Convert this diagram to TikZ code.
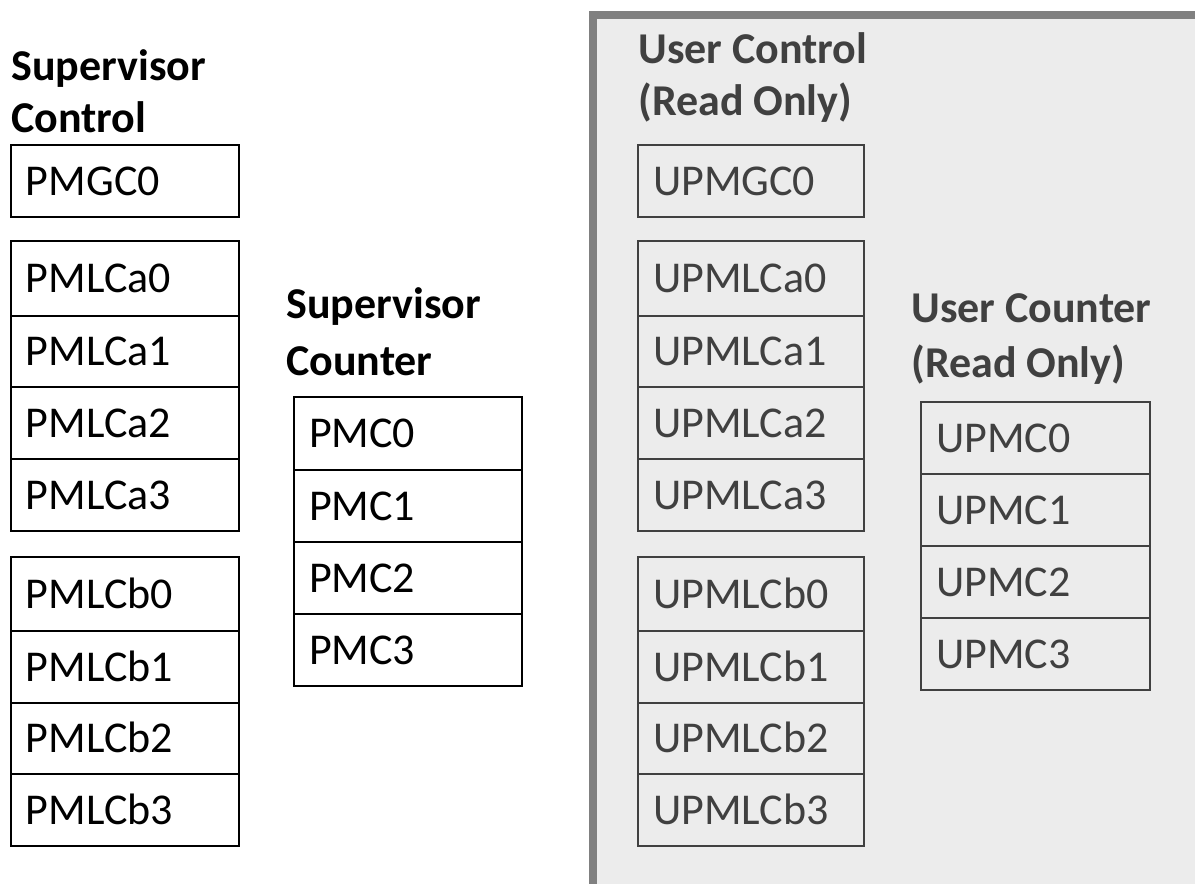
\documentclass[tikz,border=0pt]{standalone}
\usepackage{fontspec}
\setmainfont{Carlito}
\definecolor{panelfill}{HTML}{ECECEC}
\definecolor{panelrule}{HTML}{808080}
\definecolor{usertext}{HTML}{404040}
\definecolor{suptext}{HTML}{000000}
\begin{document}
\begin{tikzpicture}[x=0.75pt,y=-0.75pt,
  cellbox/.style={draw=#1, line width=1.5pt, anchor=north west, inner ysep=0pt,
    inner xsep=11.25pt, align=left, text height=21pt, text depth=0pt,
    font=\fontsize{33}{40}\selectfont},
  supcell/.style={cellbox=suptext, text=suptext, text width=148.5pt, minimum width=171pt},
  usercell/.style={cellbox=usertext, text=usertext, text width=147pt, minimum width=169.5pt},
  ucntcell/.style={cellbox=usertext, text=usertext, text width=149.25pt, minimum width=171.75pt},
  title/.style={anchor=base west, inner sep=0pt, font=\fontsize{33}{40}\selectfont\bfseries},
  suptitle/.style={title, text=suptext},
  usertitle/.style={title, text=usertext}]
\useasboundingbox (0,0) rectangle (1195,883);
\clip (0,0) rectangle (1195,883);
% user panel
\draw[fill=panelfill, draw=panelrule, line width=6pt] (593,15) rectangle (1230,920);

% supervisor control
\node[suptitle] (sct1) at (11,80) {Supervisor};
\node[suptitle] (sct2) at (11,132) {Control};
\node[supcell, minimum height=54pt] (pmgc0) at (10,144) {PMGC0};
\node[supcell, minimum height=56.25pt] (pmlca0) at (10,240) {PMLCa0};
\node[supcell, minimum height=53.25pt] (pmlca1) at (10,315) {PMLCa1};
\node[supcell, minimum height=54pt] (pmlca2) at (10,386) {PMLCa2};
\node[supcell, minimum height=54pt] (pmlca3) at (10,458) {PMLCa3};
\node[supcell, minimum height=55.5pt] (pmlcb0) at (10,556) {PMLCb0};
\node[supcell, minimum height=54pt] (pmlcb1) at (10,630) {PMLCb1};
\node[supcell, minimum height=53.25pt] (pmlcb2) at (10,702) {PMLCb2};
\node[supcell, minimum height=54pt] (pmlcb3) at (10,773) {PMLCb3};

% supervisor counter
\node[suptitle] (scn1) at (286,318) {Supervisor};
\node[suptitle] (scn2) at (286,375) {Counter};
\node[supcell, minimum height=54.75pt] (pmc0) at (293,396) {PMC0};
\node[supcell, minimum height=54pt] (pmc1) at (293,469) {PMC1};
\node[supcell, minimum height=54pt] (pmc2) at (293,541) {PMC2};
\node[supcell, minimum height=54pt] (pmc3) at (293,613) {PMC3};

% user control
\node[usertitle] (uct1) at (638,63) {User Control};
\node[usertitle] (uct2) at (638,115) {(Read Only)};
\node[usercell, minimum height=54pt] (upmgc0) at (637,144) {UPMGC0};
\node[usercell, minimum height=56.25pt] (upmlca0) at (637,240) {UPMLCa0};
\node[usercell, minimum height=53.25pt] (upmlca1) at (637,315) {UPMLCa1};
\node[usercell, minimum height=54pt] (upmlca2) at (637,386) {UPMLCa2};
\node[usercell, minimum height=54pt] (upmlca3) at (637,458) {UPMLCa3};
\node[usercell, minimum height=55.5pt] (upmlcb0) at (637,556) {UPMLCb0};
\node[usercell, minimum height=54pt] (upmlcb1) at (637,630) {UPMLCb1};
\node[usercell, minimum height=53.25pt] (upmlcb2) at (637,702) {UPMLCb2};
\node[usercell, minimum height=54pt] (upmlcb3) at (637,773) {UPMLCb3};

% user counter
\node[usertitle] (ucn1) at (911,322) {User Counter};
\node[usertitle] (ucn2) at (911,377) {(Read Only)};
\node[ucntcell, minimum height=54pt] (upmc0) at (920,401) {UPMC0};
\node[ucntcell, minimum height=54pt] (upmc1) at (920,473) {UPMC1};
\node[ucntcell, minimum height=54pt] (upmc2) at (920,545) {UPMC2};
\node[ucntcell, minimum height=54pt] (upmc3) at (920,617) {UPMC3};
\end{tikzpicture}
\end{document}
